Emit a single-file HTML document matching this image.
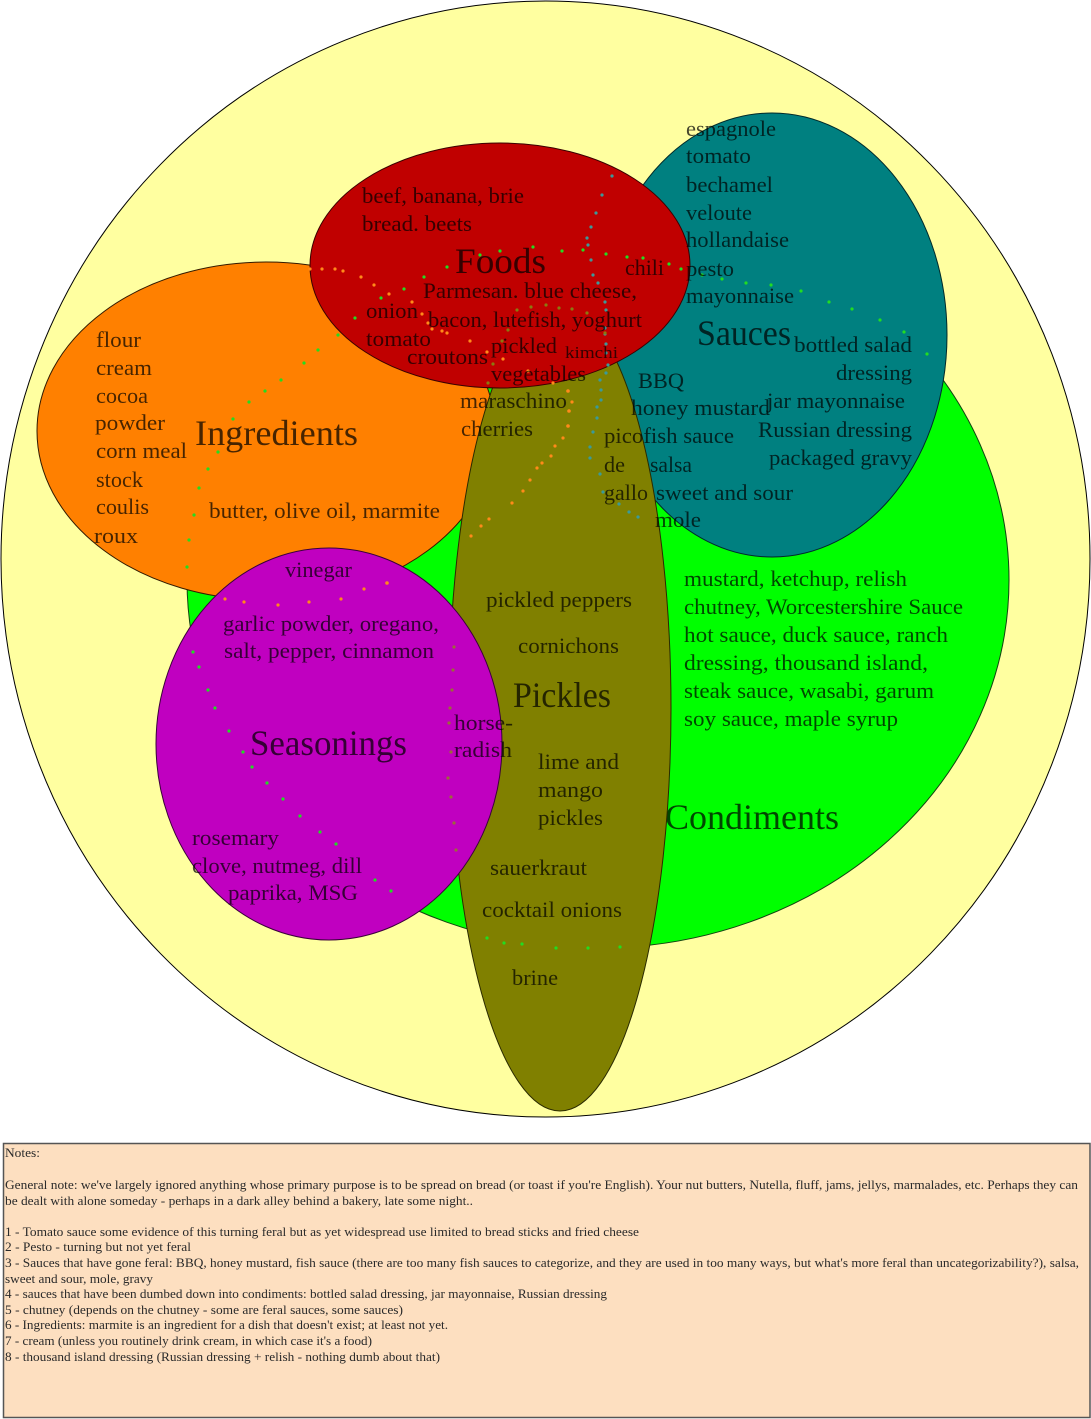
<!DOCTYPE html>
<html><head><meta charset="utf-8"><style>
html,body{margin:0;padding:0;background:#fff;}
svg{display:block;}
.t{font-family:"Liberation Serif",serif;font-size:22px;fill:#000;fill-opacity:0.72;}
.h{font-family:"Liberation Serif",serif;font-size:36px;fill:#000;fill-opacity:0.72;}
.n{font-family:"Liberation Serif",serif;font-size:12.5px;fill:#2a2a2a;}
</style></head><body>
<svg width="1091" height="1419" viewBox="0 0 1091 1419" xmlns="http://www.w3.org/2000/svg">
<rect x="0" y="0" width="1091" height="1419" fill="#fff"/>
<!-- outer yellow -->
<ellipse cx="545.5" cy="559" rx="544.5" ry="558" fill="#FFFFA0" stroke="#000" stroke-width="1"/>
<!-- condiments green -->
<ellipse cx="598" cy="580" rx="411" ry="368" fill="#00FF00" stroke="#114411" stroke-width="1"/>
<!-- Condiments label (under olive) -->
<text class="h" x="665" y="829" textLength="174" lengthAdjust="spacingAndGlyphs">Condiments</text>
<!-- ingredients orange -->
<ellipse cx="266" cy="431" rx="229" ry="169" fill="#FF8000" stroke="#331a00" stroke-width="1"/>
<!-- sauces teal -->
<ellipse cx="772" cy="335" rx="175" ry="222" fill="#008080" stroke="#002a2a" stroke-width="1"/>
<!-- pickles olive -->
<ellipse cx="560" cy="708" rx="111" ry="403" fill="#808000" stroke="#2a2a00" stroke-width="1"/>
<!-- seasonings magenta -->
<ellipse cx="329" cy="744" rx="173" ry="196" fill="#C000C0" stroke="#3a003a" stroke-width="1"/>
<!-- foods red -->
<ellipse cx="500" cy="265.5" rx="190" ry="122.5" fill="#C00000" stroke="#3a0000" stroke-width="1"/>

<!-- dotted lines -->
<g fill="#22dd22">
<circle cx="187" cy="567" r="1.6"/><circle cx="189" cy="540" r="1.6"/><circle cx="194" cy="515" r="1.6"/><circle cx="199" cy="488" r="1.6"/><circle cx="208" cy="469" r="1.6"/><circle cx="218" cy="452" r="1.6"/><circle cx="233" cy="419" r="1.6"/><circle cx="249" cy="402" r="1.6"/><circle cx="265" cy="391" r="1.6"/><circle cx="281" cy="380" r="1.6"/><circle cx="304" cy="363" r="1.6"/><circle cx="318" cy="350" r="1.6"/><circle cx="338" cy="335" r="1.6"/><circle cx="355" cy="318" r="1.6"/><circle cx="381" cy="298" r="1.6"/><circle cx="404" cy="289" r="1.6"/><circle cx="424" cy="277" r="1.6"/><circle cx="447" cy="267" r="1.6"/><circle cx="480" cy="255" r="1.6"/><circle cx="500" cy="251" r="1.6"/><circle cx="533" cy="247" r="1.6"/><circle cx="562" cy="251" r="1.6"/><circle cx="583" cy="250" r="1.6"/><circle cx="606" cy="254" r="1.6"/><circle cx="627" cy="257" r="1.6"/><circle cx="643" cy="258" r="1.6"/><circle cx="669" cy="264" r="1.6"/><circle cx="681" cy="269" r="1.6"/><circle cx="702" cy="275" r="1.6"/><circle cx="722" cy="279" r="1.6"/><circle cx="746" cy="283" r="1.6"/><circle cx="771" cy="285" r="1.6"/><circle cx="801" cy="291" r="1.6"/><circle cx="829" cy="302" r="1.6"/><circle cx="852" cy="309" r="1.6"/><circle cx="880" cy="320" r="1.6"/><circle cx="904" cy="332" r="1.6"/><circle cx="927" cy="354" r="1.6"/>
<circle cx="193" cy="652" r="1.6"/><circle cx="199" cy="667" r="1.6"/><circle cx="208" cy="690" r="1.6"/><circle cx="215" cy="708" r="1.6"/><circle cx="229" cy="731" r="1.6"/><circle cx="243" cy="752" r="1.6"/><circle cx="252" cy="767" r="1.6"/><circle cx="267" cy="783" r="1.6"/><circle cx="283" cy="799" r="1.6"/><circle cx="300" cy="816" r="1.6"/><circle cx="320" cy="832" r="1.6"/><circle cx="336" cy="844" r="1.6"/><circle cx="375" cy="880" r="1.6"/><circle cx="391" cy="891" r="1.6"/>
<circle cx="487" cy="938" r="1.6"/><circle cx="504" cy="943" r="1.6"/><circle cx="522" cy="944" r="1.6"/><circle cx="556" cy="948" r="1.6"/><circle cx="588" cy="948" r="1.6"/><circle cx="620" cy="947" r="1.6"/>
</g>
<g fill="#ff8a1a">
<circle cx="310" cy="269" r="1.6"/><circle cx="322" cy="269" r="1.6"/><circle cx="335" cy="269" r="1.6"/><circle cx="343" cy="271" r="1.6"/><circle cx="361" cy="277" r="1.6"/><circle cx="374" cy="285" r="1.6"/><circle cx="389" cy="294" r="1.6"/><circle cx="412" cy="302" r="1.6"/><circle cx="422" cy="314" r="1.6"/><circle cx="428" cy="323" r="1.6"/><circle cx="432" cy="329" r="1.6"/><circle cx="442" cy="331" r="1.6"/><circle cx="447" cy="333" r="1.6"/><circle cx="470" cy="341" r="1.6"/><circle cx="487" cy="352" r="1.6"/><circle cx="503" cy="359" r="1.6"/><circle cx="528" cy="371" r="1.6"/><circle cx="553" cy="383" r="1.6"/><circle cx="568" cy="391" r="1.8"/><circle cx="572" cy="402" r="1.6"/><circle cx="569" cy="411" r="1.8"/><circle cx="568" cy="426" r="1.8"/><circle cx="563" cy="438" r="1.6"/><circle cx="555" cy="446" r="1.6"/><circle cx="551" cy="456" r="1.6"/><circle cx="542" cy="463" r="1.6"/><circle cx="537" cy="468" r="1.6"/><circle cx="530" cy="480" r="1.6"/><circle cx="523" cy="491" r="1.6"/><circle cx="512" cy="503" r="1.6"/><circle cx="489" cy="519" r="1.6"/><circle cx="481" cy="526" r="1.6"/><circle cx="471" cy="536" r="1.6"/>
<circle cx="225" cy="599" r="1.6"/><circle cx="244" cy="602" r="1.6"/><circle cx="278" cy="605" r="1.6"/><circle cx="309" cy="602" r="1.6"/><circle cx="341" cy="599" r="1.6"/><circle cx="364" cy="589" r="1.6"/><circle cx="387" cy="583" r="1.8"/>
</g>
<g fill="#3a9a9a">
<circle cx="612" cy="176" r="1.6"/><circle cx="602" cy="195" r="1.6"/><circle cx="596" cy="213" r="1.6"/><circle cx="591" cy="227" r="1.6"/><circle cx="587" cy="238" r="1.6"/><circle cx="588" cy="245" r="1.6"/><circle cx="591" cy="260" r="1.6"/><circle cx="593" cy="275" r="1.6"/><circle cx="598" cy="283" r="1.6"/><circle cx="605" cy="302" r="1.6"/><circle cx="606" cy="310" r="1.6"/><circle cx="605" cy="328" r="1.6"/><circle cx="605" cy="334" r="1.6"/><circle cx="606" cy="344" r="1.6"/><circle cx="606" cy="353" r="1.6"/><circle cx="608" cy="365" r="1.6"/><circle cx="606" cy="373" r="1.6"/><circle cx="600" cy="380" r="1.6"/><circle cx="601" cy="390" r="1.6"/><circle cx="601" cy="400" r="1.6"/><circle cx="597" cy="407" r="1.6"/><circle cx="597" cy="418" r="1.6"/><circle cx="593" cy="432" r="1.6"/><circle cx="590" cy="447" r="1.6"/><circle cx="590" cy="458" r="1.6"/><circle cx="600" cy="474" r="1.6"/><circle cx="603" cy="492" r="1.6"/><circle cx="619" cy="504" r="1.6"/><circle cx="629" cy="512" r="1.6"/><circle cx="638" cy="517" r="1.6"/>
</g>
<g fill="#9a6a3a">
<circle cx="454" cy="647" r="1.6"/><circle cx="453" cy="670" r="1.6"/><circle cx="452" cy="690" r="1.6"/><circle cx="450" cy="708" r="1.6"/><circle cx="449" cy="723" r="1.6"/><circle cx="451" cy="752" r="1.6"/><circle cx="448" cy="778" r="1.6"/><circle cx="451" cy="797" r="1.6"/><circle cx="454" cy="823" r="1.6"/><circle cx="456" cy="850" r="1.6"/>
</g>
<g fill="#8a7a10">
<circle cx="517" cy="310" r="1.6"/><circle cx="531" cy="307" r="1.6"/><circle cx="546" cy="305" r="1.6"/><circle cx="559" cy="308" r="1.6"/><circle cx="572" cy="309" r="1.6"/><circle cx="587" cy="313" r="1.6"/><circle cx="605" cy="333" r="1.6"/><circle cx="508" cy="330" r="1.6"/><circle cx="502" cy="341" r="1.6"/><circle cx="493" cy="364" r="1.6"/><circle cx="488" cy="383" r="1.6"/>
</g>

<!-- Foods text -->
<text class="t" x="362" y="203" textLength="162" lengthAdjust="spacingAndGlyphs">beef, banana, brie</text>
<text class="t" x="362" y="231" textLength="110" lengthAdjust="spacingAndGlyphs">bread. beets</text>
<text class="h" x="455" y="273" textLength="91" lengthAdjust="spacingAndGlyphs">Foods</text>
<text class="t" x="423" y="298" textLength="214" lengthAdjust="spacingAndGlyphs">Parmesan. blue cheese,</text>
<text class="t" x="428" y="327" textLength="214" lengthAdjust="spacingAndGlyphs">bacon, lutefish, yoghurt</text>
<text class="t" x="366" y="318" textLength="52" lengthAdjust="spacingAndGlyphs">onion</text>
<text class="t" x="366" y="346" textLength="65" lengthAdjust="spacingAndGlyphs">tomato</text>
<text class="t" x="407" y="364" textLength="81" lengthAdjust="spacingAndGlyphs">croutons</text>
<text class="t" x="491" y="353" textLength="66" lengthAdjust="spacingAndGlyphs">pickled</text>
<text class="t" x="565" y="358" textLength="53" lengthAdjust="spacingAndGlyphs" style="font-size:17px">kimchi</text>
<text class="t" x="491" y="381" textLength="95" lengthAdjust="spacingAndGlyphs">vegetables</text>
<text class="t" x="460" y="408" textLength="107" lengthAdjust="spacingAndGlyphs">maraschino</text>
<text class="t" x="461" y="436" textLength="72" lengthAdjust="spacingAndGlyphs">cherries</text>
<text class="t" x="625" y="275" textLength="39" lengthAdjust="spacingAndGlyphs">chili</text>

<!-- Sauces text -->
<text class="t" x="686" y="136" textLength="90" lengthAdjust="spacingAndGlyphs">espagnole</text>
<text class="t" x="686" y="163" textLength="65" lengthAdjust="spacingAndGlyphs">tomato</text>
<text class="t" x="686" y="192" textLength="87" lengthAdjust="spacingAndGlyphs">bechamel</text>
<text class="t" x="686" y="220" textLength="66" lengthAdjust="spacingAndGlyphs">veloute</text>
<text class="t" x="686" y="247" textLength="103" lengthAdjust="spacingAndGlyphs">hollandaise</text>
<text class="t" x="686" y="276" textLength="48" lengthAdjust="spacingAndGlyphs">pesto</text>
<text class="t" x="686" y="303" textLength="108" lengthAdjust="spacingAndGlyphs">mayonnaise</text>
<text class="h" x="697" y="345" textLength="94" lengthAdjust="spacingAndGlyphs">Sauces</text>
<text class="t" x="794" y="352" textLength="118" lengthAdjust="spacingAndGlyphs">bottled salad</text>
<text class="t" x="836" y="380" textLength="76" lengthAdjust="spacingAndGlyphs">dressing</text>
<text class="t" x="767" y="408" textLength="138" lengthAdjust="spacingAndGlyphs">jar mayonnaise</text>
<text class="t" x="758" y="437" textLength="154" lengthAdjust="spacingAndGlyphs">Russian dressing</text>
<text class="t" x="769" y="465" textLength="143" lengthAdjust="spacingAndGlyphs">packaged gravy</text>
<text class="t" x="638" y="388" textLength="46" lengthAdjust="spacingAndGlyphs">BBQ</text>
<text class="t" x="631" y="415" textLength="139" lengthAdjust="spacingAndGlyphs">honey mustard</text>
<text class="t" x="604" y="443" textLength="130" lengthAdjust="spacingAndGlyphs">picofish sauce</text>
<text class="t" x="604" y="472" textLength="21" lengthAdjust="spacingAndGlyphs">de</text>
<text class="t" x="650" y="472" textLength="42" lengthAdjust="spacingAndGlyphs">salsa</text>
<text class="t" x="604" y="500" textLength="44" lengthAdjust="spacingAndGlyphs">gallo</text>
<text class="t" x="656" y="500" textLength="137" lengthAdjust="spacingAndGlyphs">sweet and sour</text>
<text class="t" x="655" y="527" textLength="46" lengthAdjust="spacingAndGlyphs">mole</text>

<!-- Ingredients text -->
<text class="t" x="96" y="347" textLength="45" lengthAdjust="spacingAndGlyphs">flour</text>
<text class="t" x="96" y="375" textLength="56" lengthAdjust="spacingAndGlyphs">cream</text>
<text class="t" x="96" y="403" textLength="52" lengthAdjust="spacingAndGlyphs">cocoa</text>
<text class="t" x="95" y="430" textLength="70" lengthAdjust="spacingAndGlyphs">powder</text>
<text class="t" x="96" y="458" textLength="91" lengthAdjust="spacingAndGlyphs">corn meal</text>
<text class="t" x="96" y="487" textLength="47" lengthAdjust="spacingAndGlyphs">stock</text>
<text class="t" x="96" y="514" textLength="53" lengthAdjust="spacingAndGlyphs">coulis</text>
<text class="t" x="94" y="543" textLength="44" lengthAdjust="spacingAndGlyphs">roux</text>
<text class="h" x="195" y="445" textLength="163" lengthAdjust="spacingAndGlyphs">Ingredients</text>
<text class="t" x="209" y="518" textLength="231" lengthAdjust="spacingAndGlyphs">butter, olive oil, marmite</text>

<!-- Seasonings text -->
<text class="t" x="285" y="577" textLength="67" lengthAdjust="spacingAndGlyphs">vinegar</text>
<text class="t" x="223" y="631" textLength="216" lengthAdjust="spacingAndGlyphs">garlic powder, oregano,</text>
<text class="t" x="224" y="658" textLength="210" lengthAdjust="spacingAndGlyphs">salt, pepper, cinnamon</text>
<text class="h" x="250" y="755" textLength="157" lengthAdjust="spacingAndGlyphs">Seasonings</text>
<text class="t" x="454" y="730" textLength="59" lengthAdjust="spacingAndGlyphs">horse-</text>
<text class="t" x="454" y="757" textLength="58" lengthAdjust="spacingAndGlyphs">radish</text>
<text class="t" x="192" y="845" textLength="87" lengthAdjust="spacingAndGlyphs">rosemary</text>
<text class="t" x="192" y="873" textLength="170" lengthAdjust="spacingAndGlyphs">clove, nutmeg, dill</text>
<text class="t" x="228" y="900" textLength="130" lengthAdjust="spacingAndGlyphs">paprika, MSG</text>

<!-- Pickles text -->
<text class="t" x="486" y="607" textLength="146" lengthAdjust="spacingAndGlyphs">pickled peppers</text>
<text class="t" x="518" y="653" textLength="101" lengthAdjust="spacingAndGlyphs">cornichons</text>
<text class="h" x="513" y="707" textLength="98" lengthAdjust="spacingAndGlyphs">Pickles</text>
<text class="t" x="538" y="769" textLength="81" lengthAdjust="spacingAndGlyphs">lime and</text>
<text class="t" x="538" y="797" textLength="65" lengthAdjust="spacingAndGlyphs">mango</text>
<text class="t" x="538" y="825" textLength="65" lengthAdjust="spacingAndGlyphs">pickles</text>
<text class="t" x="490" y="875" textLength="97" lengthAdjust="spacingAndGlyphs">sauerkraut</text>
<text class="t" x="482" y="917" textLength="140" lengthAdjust="spacingAndGlyphs">cocktail onions</text>
<text class="t" x="512" y="985" textLength="46" lengthAdjust="spacingAndGlyphs">brine</text>

<!-- Condiments text -->
<text class="t" x="684" y="586" textLength="223" lengthAdjust="spacingAndGlyphs">mustard, ketchup, relish</text>
<text class="t" x="684" y="614" textLength="279" lengthAdjust="spacingAndGlyphs">chutney, Worcestershire Sauce</text>
<text class="t" x="684" y="642" textLength="264" lengthAdjust="spacingAndGlyphs">hot sauce, duck sauce, ranch</text>
<text class="t" x="684" y="670" textLength="244" lengthAdjust="spacingAndGlyphs">dressing, thousand island,</text>
<text class="t" x="684" y="698" textLength="250" lengthAdjust="spacingAndGlyphs">steak sauce, wasabi, garum</text>
<text class="t" x="684" y="726" textLength="214" lengthAdjust="spacingAndGlyphs">soy sauce, maple syrup</text>

<!-- Notes box -->
<rect x="3.5" y="1143.5" width="1086.5" height="274" fill="#FDDFC0" stroke="#555" stroke-width="1.5"/>
<text class="n" x="5" y="1157" textLength="35" lengthAdjust="spacingAndGlyphs">Notes:</text>
<text class="n" x="5" y="1189" textLength="1073" lengthAdjust="spacingAndGlyphs">General note: we've largely ignored anything whose primary purpose is to be spread on bread (or toast if you're English).  Your nut butters, Nutella, fluff, jams, jellys, marmalades, etc.  Perhaps they can</text>
<text class="n" x="5" y="1205" textLength="468" lengthAdjust="spacingAndGlyphs">be dealt with alone someday - perhaps in a dark alley behind a bakery, late some night..</text>
<text class="n" x="5" y="1236" textLength="634" lengthAdjust="spacingAndGlyphs">1 - Tomato sauce  some evidence of this turning feral but as yet widespread use limited to bread sticks and fried cheese</text>
<text class="n" x="5" y="1251" textLength="186" lengthAdjust="spacingAndGlyphs">2 - Pesto - turning but not yet feral</text>
<text class="n" x="5" y="1267" textLength="1074" lengthAdjust="spacingAndGlyphs">3 - Sauces that have gone feral: BBQ, honey mustard, fish sauce (there are too many fish sauces to categorize, and they are used in too many ways, but what's more feral than uncategorizability?), salsa,</text>
<text class="n" x="5" y="1283" textLength="148" lengthAdjust="spacingAndGlyphs">sweet and sour, mole, gravy</text>
<text class="n" x="5" y="1298" textLength="602" lengthAdjust="spacingAndGlyphs">4 - sauces that have been dumbed down into condiments: bottled salad dressing, jar mayonnaise, Russian dressing</text>
<text class="n" x="5" y="1314" textLength="398" lengthAdjust="spacingAndGlyphs">5 - chutney (depends on the chutney - some are feral sauces, some sauces)</text>
<text class="n" x="5" y="1329" textLength="443" lengthAdjust="spacingAndGlyphs">6 - Ingredients: marmite is an ingredient for a dish that doesn't exist; at least not yet.</text>
<text class="n" x="5" y="1345" textLength="367" lengthAdjust="spacingAndGlyphs">7 - cream (unless you routinely drink cream, in which case it's a food)</text>
<text class="n" x="5" y="1361" textLength="435" lengthAdjust="spacingAndGlyphs">8 - thousand island dressing (Russian dressing + relish - nothing dumb about that)</text>
</svg>
</body></html>
